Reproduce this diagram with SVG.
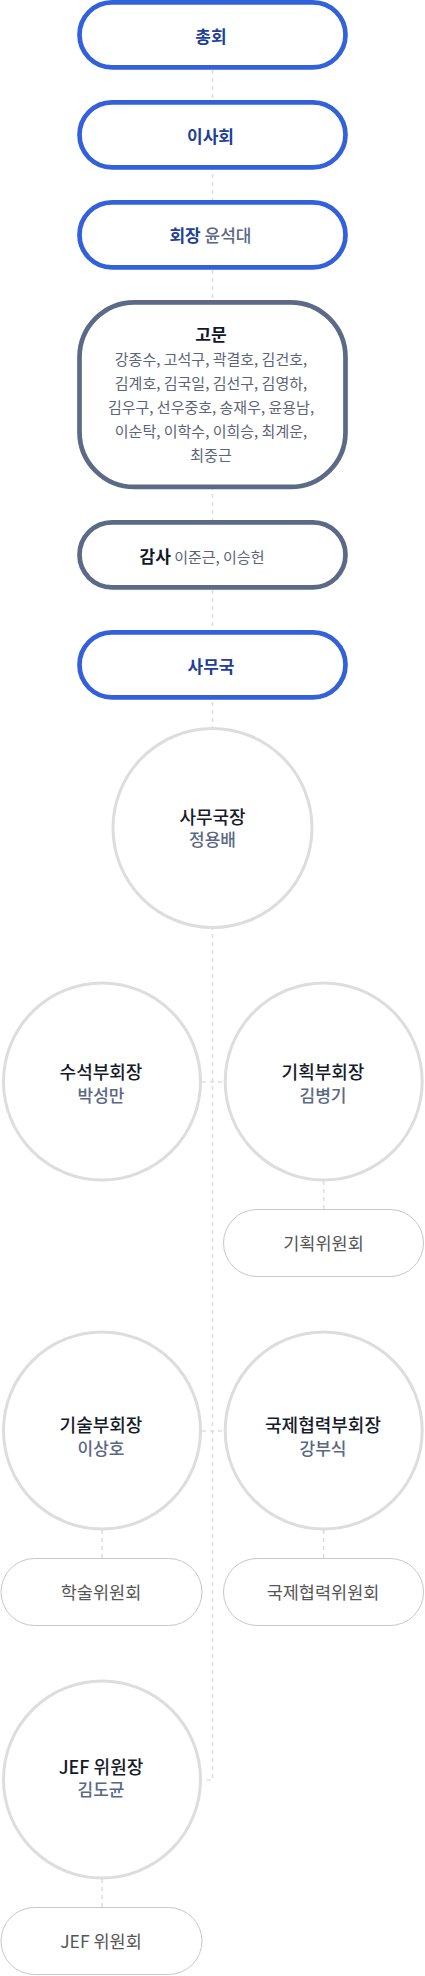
<svg xmlns="http://www.w3.org/2000/svg" width="425" height="1976" viewBox="0 0 425 1976">
<style>
text{font-family:"Noto Sans CJK KR","Noto Sans",sans-serif;text-anchor:middle}
.pb{fill:#fff;stroke:#3361db;stroke-width:4.7}
.pg{fill:#fff;stroke:#5b6a86;stroke-width:4.7}
.cc{fill:#fff;stroke:#dddddd;stroke-width:3}
.cp{fill:#fff;stroke:#c8c8c8;stroke-width:1}
.tb{font-size:17px;font-weight:700;fill:#213f98}
.tk{font-size:17px;font-weight:700;fill:#111827}
.tn{font-size:17px;font-weight:500;fill:#5b6785}
.ts{font-size:15px;font-weight:400;fill:#5b6478}
.tt{font-size:18px;font-weight:500;fill:#161b2b}
.tc{font-size:17.5px;font-weight:400;fill:#555555}
.dl{fill:none;stroke:#dcdfe9;stroke-width:1.6;stroke-dasharray:4 4}
</style>
<rect width="425" height="1976" fill="#fff"/>
<g id="connectors">
<path class="dl" d="M212.5 70 V1780 H202"/>
<path class="dl" d="M202 1082 H223"/>
<path class="dl" d="M202 1431 H223"/>
<path class="dl" d="M323.7 1181 V1209"/>
<path class="dl" d="M102 1530 V1558"/>
<path class="dl" d="M323.7 1530 V1558"/>
<path class="dl" d="M102 1879 V1907"/>
</g>
<g id="n-chonghoe">
<rect class="pb" x="79.5" y="2.35" width="266" height="65" rx="32.5"/>
<text class="tb" x="211" y="42.5">총회</text>
</g>
<g id="n-isahoe">
<rect class="pb" x="79.5" y="102.35" width="266" height="65" rx="32.5"/>
<text class="tb" x="210.5" y="142.5">이사회</text>
</g>
<g id="n-hoejang">
<rect class="pb" x="79.5" y="202.35" width="266" height="65" rx="32.5"/>
<text x="210.5" y="241.5"><tspan class="tb">회장</tspan><tspan class="tn"> 윤석대</tspan></text>
</g>
<g id="n-gomun">
<rect class="pg" x="79.5" y="302.35" width="266" height="184.6" rx="55"/>
<text class="tk" x="211" y="340.8">고문</text>
<text class="ts" x="211" y="365.3">강종수, 고석구, 곽결호, 김건호,</text>
<text class="ts" x="211" y="388.7">김계호, 김국일, 김선구, 김영하,</text>
<text class="ts" x="211" y="412.7">김우구, 선우중호, 송재우, 윤용남,</text>
<text class="ts" x="211" y="436.7">이순탁, 이학수, 이희승, 최계운,</text>
<text class="ts" x="211" y="460.7">최중근</text>
</g>
<g id="n-gamsa">
<rect class="pg" x="79.5" y="522.35" width="266" height="65" rx="32.5"/>
<text x="202" y="562.5"><tspan class="tk">감사</tspan><tspan class="ts"> 이준근, 이승헌</tspan></text>
</g>
<g id="n-samuguk">
<rect class="pb" x="79.5" y="632.35" width="266" height="65" rx="32.5"/>
<text class="tb" x="211" y="672.5">사무국</text>
</g>
<g id="n-samugukjang">
<circle class="cc" cx="212.5" cy="828" r="99.5"/>
<text class="tt" x="212.5" y="823.5">사무국장</text>
<text class="tn" x="212.5" y="846.4">정용배</text>
</g>
<g id="n-suseok">
<circle class="cc" cx="102" cy="1081.5" r="98.5"/>
<text class="tt" x="101" y="1078.9">수석부회장</text>
<text class="tn" x="101" y="1101.8">박성만</text>
</g>
<g id="n-gihoek">
<circle class="cc" cx="323.7" cy="1081.5" r="98.5"/>
<text class="tt" x="323" y="1078.9">기획부회장</text>
<text class="tn" x="323" y="1101.8">김병기</text>
</g>
<g id="n-gihoekwiwonhoe">
<rect class="cp" x="223.5" y="1209.5" width="200" height="67" rx="33.5"/>
<text class="tc" x="323.5" y="1250">기획위원회</text>
</g>
<g id="n-gisul">
<circle class="cc" cx="102" cy="1430.5" r="98.5"/>
<text class="tt" x="101" y="1431.9">기술부회장</text>
<text class="tn" x="101" y="1454.8">이상호</text>
</g>
<g id="n-gukje">
<circle class="cc" cx="323.7" cy="1430.5" r="98.5"/>
<text class="tt" x="323" y="1431.9">국제협력부회장</text>
<text class="tn" x="323" y="1454.8">강부식</text>
</g>
<g id="n-haksul">
<rect class="cp" x="1" y="1558.5" width="201" height="67" rx="33.5"/>
<text class="tc" x="101" y="1599">학술위원회</text>
</g>
<g id="n-gukjewiwonhoe">
<rect class="cp" x="223.5" y="1558.5" width="200" height="67" rx="33.5"/>
<text class="tc" x="323" y="1599">국제협력위원회</text>
</g>
<g id="n-jef">
<circle class="cc" cx="102" cy="1779.5" r="98.5"/>
<text class="tt" x="101" y="1774.4">JEF 위원장</text>
<text class="tn" x="101" y="1795.8">김도균</text>
</g>
<g id="n-jefwiwonhoe">
<rect class="cp" x="1" y="1907.5" width="201" height="67" rx="33.5"/>
<text class="tc" x="101" y="1947.7">JEF 위원회</text>
</g>
</svg>
